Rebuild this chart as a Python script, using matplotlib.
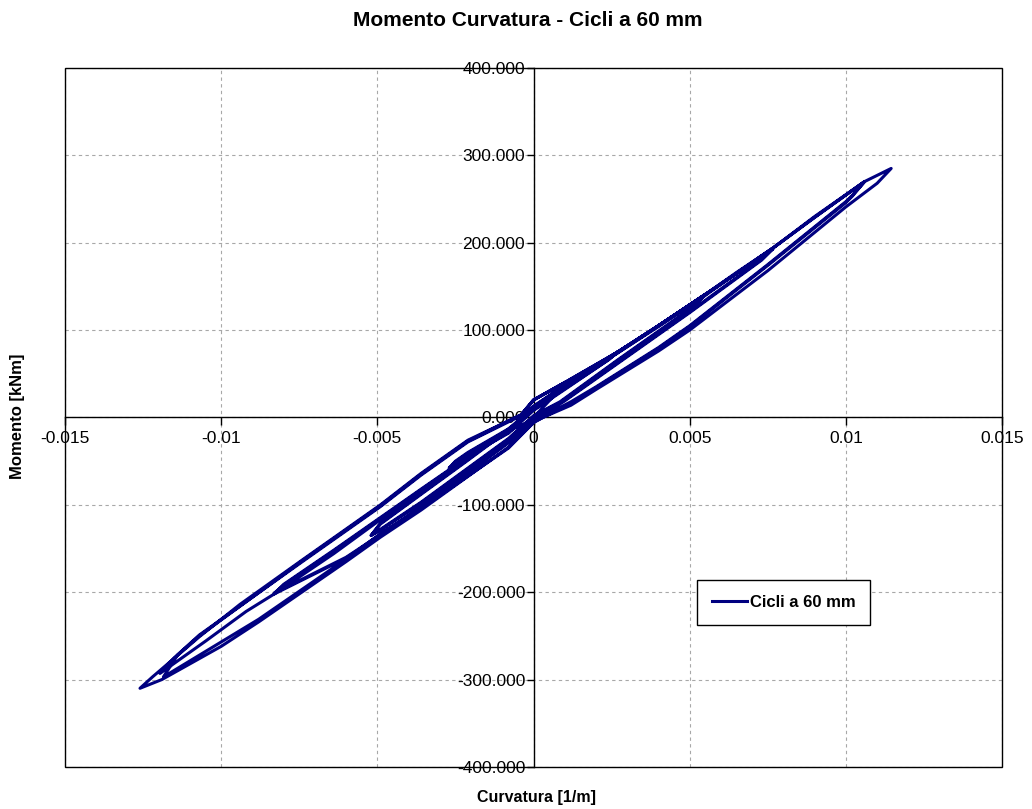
import numpy as np
import matplotlib
matplotlib.use('Agg')
import matplotlib.pyplot as plt
from matplotlib.ticker import FuncFormatter, FixedLocator
from matplotlib.patches import Rectangle

plt.rcParams['font.family'] = ['Liberation Sans', 'DejaVu Sans']

# cicli a +/-0.0027 1/m
curv_a = [0.0, 0.0010, 0.0027, 0.0024, 0.0010, 0.0, -0.0008, -0.0021, -0.0027, -0.0025, -0.0021, -0.0008, 0.0,
          0.0010, 0.0027, 0.0024, 0.0010, 0.0, -0.0008, -0.0021, -0.0027, -0.0025, -0.0021, -0.0008, 0.0, 0.0010]
mom_a = [0, 38, 75, 66, 32, 8, -18, -44, -58, -51, -41, -14, 10,
         37, 75, 66, 33, 9, -17, -43, -58, -50, -40, -13, 11, 37]

# cicli a +0.00555 / -0.0052
curv_b = [0.0027, 0.0040, 0.00555, 0.0050, 0.0027, 0.00085, 0.0, -0.0008, -0.0036, -0.0049, -0.0052,
          -0.0049, -0.0036, -0.0021, -0.0006, 0.0, 0.0010,
          0.0027, 0.0040, 0.00555, 0.0050, 0.0027, 0.00085, 0.0, -0.0008, -0.0036, -0.0049, -0.0052,
          -0.0049, -0.0036, -0.0021, -0.0006, 0.0, 0.0010]
mom_b = [75, 105, 142, 124, 66, 18, 2, -24, -97, -128, -135,
         -122, -88, -49, -9, 12, 37,
         74, 105, 142, 123, 65, 17, 1, -25, -98, -129, -135,
         -121, -87, -48, -8, 13, 37]

# cicli a +0.00767 / -0.0083
curv_c = [0.0027, 0.0040, 0.00555, 0.0065, 0.00767, 0.0073, 0.0050, 0.0027, 0.0010, 0.0002, -0.0008,
          -0.0036, -0.0049, -0.0060, -0.0083, -0.0080, -0.0064, -0.0036, -0.0021, -0.00066, 0.0, 0.0010,
          0.0027, 0.0040, 0.00555, 0.0065, 0.00767, 0.0073, 0.0050, 0.0027, 0.0010, 0.0002, -0.0008,
          -0.0036, -0.0049, -0.0060, -0.0083, -0.0080, -0.0064, -0.0036, -0.0021, -0.00066, 0.0, 0.0010]
mom_c = [75, 105, 142, 165, 194, 181, 121, 63, 20, 2, -28,
         -102, -134, -160, -201, -192, -153, -83, -46, -11, 10, 36,
         74, 104, 141, 165, 193, 180, 120, 62, 19, 1, -29,
         -103, -135, -161, -202, -191, -152, -82, -45, -10, 11, 37]

# cicli a +0.0106 / -0.0120
curv_d = [0.0027, 0.0040, 0.00555, 0.0065, 0.00767, 0.0090, 0.0106,
          0.0102, 0.0100, 0.0075, 0.0050, 0.0040, 0.0020, 0.0012, 0.0005,
          -0.0006, -0.0021, -0.0036, -0.0064, -0.0083, -0.0092, -0.0105, -0.01196,
          -0.0115, -0.0107, -0.0074, -0.0049, -0.0036, -0.0021, -0.0004, 0.0, 0.0010,
          0.0027, 0.0040, 0.00555, 0.0065, 0.00767, 0.0090, 0.0106,
          0.0102, 0.0100, 0.0075, 0.0050, 0.0040, 0.0020, 0.0012, 0.0004,
          0.0, -0.0008, -0.0036, -0.0049, -0.0060, -0.0088, -0.01185,
          -0.0114, -0.0107, -0.0074, -0.0049, -0.0036, -0.0021, -0.0004, 0.0, 0.0010]
mom_d = [75, 105, 142, 165, 194, 229, 270,
         254, 247, 175, 105, 80, 35, 18, 5,
         -12, -46, -83, -156, -202, -222, -256, -293,
         -275, -249, -165, -102, -66, -28, 2, 20, 40,
         75, 105, 142, 166, 194, 230, 270,
         253, 246, 174, 104, 79, 34, 16, 2,
         -6, -35, -104, -133, -162, -231, -297,
         -272, -250, -164, -101, -65, -27, 3, 20, 40]

# ciclo finale a +0.01145 / -0.0126
curv_e = [0.0027, 0.0040, 0.00555, 0.0065, 0.00767, 0.0090, 0.0106, 0.01145,
          0.0110, 0.0100, 0.0075, 0.0050, 0.0040, 0.0020, 0.0012, 0.0003,
          0.0, -0.0008, -0.0036, -0.0049, -0.0060, -0.0088, -0.0100, -0.0119, -0.0126,
          -0.0122, -0.0107, -0.0094, -0.0074, -0.0049, -0.0036, -0.0021, -0.0004, 0.0, 0.0010]
mom_e = [75, 105, 142, 165, 194, 229, 270, 285,
         268, 241, 168, 100, 76, 32, 14, 0,
         -5, -34, -106, -137, -165, -234, -262, -300, -310,
         -297, -251, -214, -163, -100, -64, -26, 3, 20, 40]

curvatura = np.concatenate([curv_a, curv_b, curv_c, curv_d, curv_e])
momento = np.concatenate([mom_a, mom_b, mom_c, mom_d, mom_e])

x_ticks = [-0.015, -0.01, -0.005, 0, 0.005, 0.01, 0.015]
y_ticks = [-400, -300, -200, -100, 0, 100, 200, 300, 400]

fig = plt.figure(figsize=(10.32, 8.09), dpi=100)
ax = fig.add_axes([0.063, 0.052, 0.908, 0.864])

ax.plot(curvatura, momento, color='#000080', lw=2.2, label='Cicli a 60 mm',
        solid_joinstyle='round', zorder=4)

ax.set_xlim(-0.015, 0.015)
ax.set_ylim(-400, 400)
ax.xaxis.set_major_locator(FixedLocator(x_ticks))
ax.yaxis.set_major_locator(FixedLocator(y_ticks))
ax.xaxis.set_major_formatter(FuncFormatter(lambda v, pos: f'{v:g}'))
ax.yaxis.set_major_formatter(FuncFormatter(lambda v, pos: f'{v:.3f}'))

# assi che si incrociano nell'origine
ax.spines['left'].set_position(('data', 0))
ax.spines['bottom'].set_position(('data', 0))
ax.spines['top'].set_visible(False)
ax.spines['right'].set_visible(False)
for s in ('left', 'bottom'):
    ax.spines[s].set_linewidth(1.0)
    ax.spines[s].set_zorder(3)
ax.add_patch(Rectangle((0, 0), 1, 1, transform=ax.transAxes, fill=False,
                       edgecolor='black', lw=1.0, clip_on=False, zorder=5))

ax.tick_params(axis='y', direction='out', length=5, width=1, pad=1, labelsize=12.5)
ax.tick_params(axis='x', direction='out', length=6, width=1, pad=4, labelsize=12.5)

ax.grid(True, color='#a8a8a8', linestyle=(0, (3, 3)), lw=0.8)
ax.set_axisbelow(True)

leg = ax.legend(loc='upper left', bbox_to_anchor=(0.6745, 0.2675), borderaxespad=0,
                fancybox=False, edgecolor='black', framealpha=1, handlelength=2.1,
                handletextpad=0.15, borderpad=0.9, prop={'weight': 'bold', 'size': 12})
leg.get_frame().set_linewidth(1.0)
leg.set_zorder(6)

fig.text(0.511, 0.975, 'Momento Curvatura - Cicli a 60 mm', ha='center', va='center',
         fontsize=15, fontweight='bold')
fig.text(0.520, 0.0148, 'Curvatura [1/m]', ha='center', va='center',
         fontsize=11.5, fontweight='bold')
fig.text(0.0174, 0.486, 'Momento [kNm]', ha='center', va='center', rotation=90,
         fontsize=12, fontweight='bold')

plt.savefig('out.png', dpi=100)
plt.close()
